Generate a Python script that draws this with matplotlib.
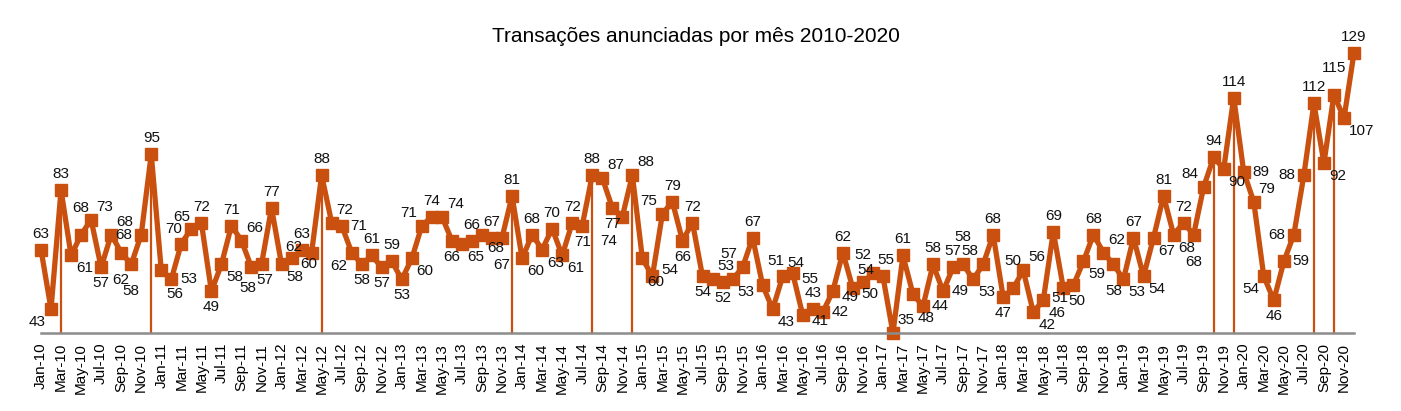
import numpy as np
import pandas as pd
import matplotlib
matplotlib.use('Agg')
import matplotlib.pyplot as plt

plt.rcParams['font.family'] = ['Liberation Sans', 'DejaVu Sans']

# monthly announced transactions, one list per year
y2010 = [63, 43, 83, 61, 68, 73, 57, 68, 62, 58, 68, 95]
y2011 = [56, 53, 65, 70, 72, 49, 58, 71, 66, 57, 58, 77]
y2012 = [58, 60, 63, 62, 88, 72, 71, 62, 58, 61, 57, 59]
y2013 = [53, 60, 71, 74, 74, 66, 65, 66, 68, 67, 67, 81]
y2014 = [60, 68, 63, 70, 61, 72, 71, 88, 87, 77, 74, 88]
y2015 = [60, 54, 75, 79, 66, 72, 54, 53, 52, 53, 57, 67]
y2016 = [51, 43, 54, 55, 41, 43, 42, 49, 62, 50, 52, 55]
y2017 = [54, 35, 61, 48, 44, 58, 49, 57, 58, 53, 58, 68]
y2018 = [47, 50, 56, 42, 46, 69, 50, 51, 59, 68, 62, 58]
y2019 = [53, 67, 54, 67, 81, 68, 72, 68, 84, 94, 90, 114]
y2020 = [89, 79, 54, 46, 59, 68, 88, 112, 92, 115, 107, 129]

values = np.array(y2010 + y2011 + y2012 + y2013 + y2014 + y2015 +
                  y2016 + y2017 + y2018 + y2019 + y2020)
months = pd.date_range('2010-01-01', periods=len(values), freq='MS').strftime('%b-%y').tolist()

# months marked with a drop line
highlight = ['Mar-10', 'Dec-10', 'May-12', 'Dec-13', 'Aug-14', 'Dec-14',
             'Oct-19', 'Dec-19', 'Aug-20', 'Oct-20']

color = '#C9500E'
W, H = 1401, 411

fig = plt.figure(figsize=(W / 100, H / 100), dpi=100)
ax = fig.add_axes([41 / W, (H - 333) / H, (1354 - 41) / W, (333 - 20) / H])
x = np.arange(len(values))
ax.set_xlim(0, len(values) - 1)
ax.set_ylim(35, 140)

hl_idx = [months.index(m) for m in highlight]
for i in hl_idx:
    ax.vlines(i, 35, values[i], color=color, lw=1.6, zorder=1)

ax.plot(x, values, color=color, lw=3.8, marker='s', ms=8.5, zorder=2, clip_on=False)

# --- data labels: greedy placement that avoids the line and other labels
pts = ax.transData.transform(np.column_stack([x, values]))
axis_y = ax.transData.transform((0, 35))[1]
samples = []
for a, b in zip(pts[:-1], pts[1:]):
    n = int(np.hypot(*(b - a))) + 1
    samples.append(np.linspace(a, b, n))
for i in hl_idx:
    top = pts[i]
    base = ax.transData.transform((i, 35))
    n = int(top[1] - base[1]) + 1
    samples.append(np.linspace(base, top, n))
samples = np.vstack(samples)


def area(a, b):
    w = min(a[2], b[2]) - max(a[0], b[0])
    h = min(a[3], b[3]) - max(a[1], b[1])
    return max(w, 0) * max(h, 0)


placed = []
lab_h = 12
for i, v in enumerate(values):
    s = str(v)
    w = 8.4 * len(s)
    prev = values[i - 1] if i > 0 else v
    nxt = values[i + 1] if i < len(values) - 1 else v
    up = [(0, 16), (w / 2 + 5, 13), (-w / 2 - 5, 13)]
    dn = [(0, -16), (w / 2 + 5, -13), (-w / 2 - 5, -13)]
    side = [(w / 2 + 9, 0), (-w / 2 - 9, 0), (w / 2 + 9, 6), (-w / 2 - 9, 6),
            (w / 2 + 9, -6), (-w / 2 - 9, -6)]
    far = [(0, 27), (0, -27), (w / 2 + 5, 24), (-w / 2 - 5, 24),
           (w / 2 + 5, -24), (-w / 2 - 5, -24)]
    cands = (up + side + dn if v >= (prev + nxt) / 2 else dn + side + up) + far
    best = None
    for k, (dx, dy) in enumerate(cands):
        cx, cy = pts[i][0] + dx, pts[i][1] + dy
        bb = (cx - w / 2, cy - lab_h / 2, cx + w / 2, cy + lab_h / 2)
        hits = np.sum((samples[:, 0] > bb[0] - 3) & (samples[:, 0] < bb[2] + 3) &
                      (samples[:, 1] > bb[1] - 3) & (samples[:, 1] < bb[3] + 3))
        ov = sum(area(bb, p) for p in placed)
        below = max(axis_y + 2 - bb[1], 0) * 40
        score = 6 * ov + 4 * hits + below + 3 * k
        if best is None or score < best[0]:
            best = (score, dx, dy, bb)
    placed.append(best[3])
    ax.annotate(s, (i, v), xytext=(best[1] * 0.72, best[2] * 0.72), textcoords='offset points',
                ha='center', va='center', fontsize=11, color='#111111')

ax.set_xticks(x[::2])
ax.set_xticklabels(months[::2], rotation=90, fontsize=11)
ax.tick_params(axis='x', length=0, pad=7)
ax.set_yticks([])
for s in ['top', 'right', 'left']:
    ax.spines[s].set_visible(False)
ax.spines['bottom'].set_color('#8c8c8c')
ax.spines['bottom'].set_linewidth(1.8)

fig.text(0.497, 1 - 37 / H, 'Transações anunciadas por mês 2010-2020',
         ha='center', va='center', fontsize=15)

fig.savefig('out.png', dpi=100)
